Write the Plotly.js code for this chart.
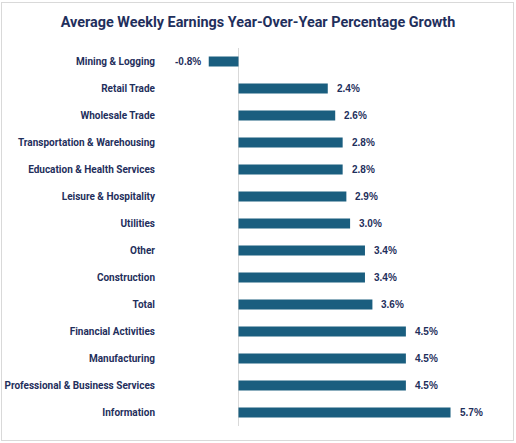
<!DOCTYPE html>
<html>
<head>
<meta charset="utf-8">
<script src="https://cdn.plot.ly/plotly-3.0.1.min.js"></script>
<style>
  html, body { margin: 0; padding: 0; background: #ffffff; }
  #chart { width: 516px; height: 443px; position: absolute; left: 0; top: 0; }
  #frame { position: absolute; left: 1px; top: 2px; width: 511px; height: 437px; border: 1px solid #d9d9d9; pointer-events: none; }
</style>
</head>
<body>
<div id="chart"></div>
<div id="frame"></div>
<script>
const categories = [
  "Mining & Logging",
  "Retail Trade",
  "Wholesale Trade",
  "Transportation & Warehousing",
  "Education & Health Services",
  "Leisure & Hospitality",
  "Utilities",
  "Other",
  "Construction",
  "Total",
  "Financial Activities",
  "Manufacturing",
  "Professional & Business Services",
  "Information"
];
const growth = [-0.8, 2.4, 2.6, 2.8, 2.8, 2.9, 3.0, 3.4, 3.4, 3.6, 4.5, 4.5, 4.5, 5.7];

const navy = "#1f2f5c";
const barColor = "#1a5e7f";
const labelFont = "Roboto, Liberation Sans, sans-serif";

const trace = {
  type: "bar",
  orientation: "h",
  x: growth,
  y: categories,
  marker: { color: barColor },
  hoverinfo: "skip"
};

const annotations = growth.map((v, i) => ({
  x: v,
  y: categories[i],
  xref: "x",
  yref: "y",
  text: v.toFixed(1) + "%",
  showarrow: false,
  xanchor: v < 0 ? "right" : "left",
  xshift: v < 0 ? -6 : 7,
  font: { family: "Liberation Sans, Arial, sans-serif", size: 10, color: navy, weight: "bold" }
}));

const layout = {
  width: 516,
  height: 443,
  paper_bgcolor: "rgba(0,0,0,0)",
  plot_bgcolor: "rgba(0,0,0,0)",
  margin: { l: 160, r: 16, t: 48, b: 17 },
  showlegend: false,
  bargap: 0.63,
  title: {
    text: "Average Weekly Earnings Year-Over-Year Percentage Growth",
    x: 0.5,
    xanchor: "center",
    xref: "container",
    y: 0.950,
    yref: "container",
    yanchor: "middle",
    font: { family: labelFont, size: 14.4, color: navy, weight: "bold" }
  },
  xaxis: {
    range: [-2.11, 7.03],
    showgrid: false,
    showticklabels: false,
    ticks: "",
    zeroline: true,
    zerolinecolor: "#d9d9d9",
    zerolinewidth: 1,
    showline: false,
    fixedrange: true
  },
  yaxis: {
    type: "category",
    autorange: "reversed",
    showgrid: false,
    zeroline: false,
    showline: false,
    ticks: "",
    ticklabelstandoff: 4,
    tickfont: { family: labelFont, size: 10, color: navy, weight: "bold" },
    fixedrange: true
  },
  annotations: annotations
};

Plotly.newPlot("chart", [trace], layout, { displayModeBar: false, staticPlot: true });
</script>
</body>
</html>
